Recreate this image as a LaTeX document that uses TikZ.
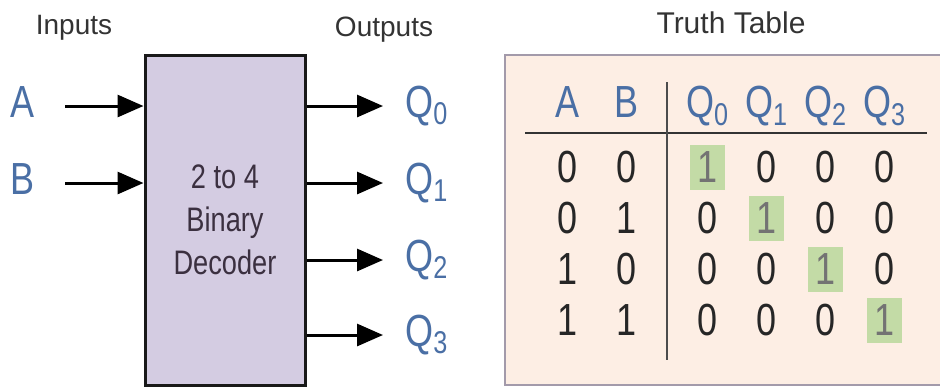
\documentclass[tikz,border=0pt]{standalone}
\usepackage{fontspec}
\setmainfont{Liberation Sans}
\newfontfamily\narrowsf{Liberation Sans}[FakeStretch=0.8]
\usetikzlibrary{
arrows.meta,
matrix,
positioning,
}
\definecolor{sigblue}{HTML}{4A6FA5}
\definecolor{headgray}{HTML}{333333}
\definecolor{decink}{HTML}{3B3040}
\definecolor{decfill}{HTML}{D4CCE2}
\definecolor{ttfill}{HTML}{FDEEE4}
\definecolor{ttdraw}{HTML}{A39AAA}
\definecolor{hlgreen}{HTML}{C3DBA6}
\tikzset{
every node/.style={align=center},
heading/.style={font=\fontsize{14}{16}\selectfont, text=headgray, anchor=base},
signame/.style={font=\narrowsf\fontsize{22.5}{26}\selectfont, text=sigblue,
  inner sep=0pt, text height=11pt, text depth=0pt},
sig/.style={draw=black, line width=1.5pt, -{Triangle[length=13pt,width=11pt]}},
decoder/.style={rectangle, draw=black!90, line width=1.5pt, fill=decfill,
  minimum width=80pt, minimum height=165pt, text=decink,
  font=\narrowsf\fontsize{17}{21.5}\selectfont},
cell/.style={font=\narrowsf\fontsize{22.5}{26}\selectfont, text=black!85,
  text height=15.5pt, text depth=0pt, inner xsep=3.8pt, inner ysep=3.5pt,
  text width=21.4pt},
head/.style={text=sigblue},
hot/.style={fill=hlgreen, text=black!55, text width=9.9pt},
rule/.style={draw=black!80, line width=1pt},
}

\begin{document}
\begin{tikzpicture}[x=0.5pt, y=-0.5pt]
\useasboundingbox (0,0) rectangle (940,387);

\node[heading] (inputs) at (74,34) {Inputs};
\node[heading] (outputs) at (384,36) {Outputs};
\node[heading, font=\fontsize{15}{17}\selectfont] (tttitle) at (731,33) {Truth Table};

\node[decoder] (dec) at (225,220) {2 to 4\\Binary\\Decoder};

\node[signame] (inA) at (23,106) {A};
\node[signame] (inB) at (23,183) {B};
\draw[sig, shorten <=15pt] (inA.east) -- (inA -| dec.west);
\draw[sig, shorten <=15pt] (inB.east) -- (inB -| dec.west);

\foreach \i/\y in {0/106,1/183,2/260,3/335} {
  \node[signame, anchor=west] (q\i) at (405,\y) {Q\textsubscript{\i}};
  \draw[sig, shorten >=11pt] (dec.east |- q\i) -- (q\i.west);
}

% truth table
\fill[ttfill, draw=ttdraw, line width=0.8pt] (505,55) rectangle (990,385);
\matrix (tt) [matrix of nodes, anchor=north west, inner sep=0pt,
  column sep=0.5pt, row sep=3pt, nodes={cell}] at (538,79.5) {
  |[head]| A & |[head]| B &[11pt] |[head]| Q\textsubscript{0} & |[head]| Q\textsubscript{1} & |[head]| Q\textsubscript{2} & |[head]| Q\textsubscript{3} \\[7pt]
  0 & 0 & |[hot]| 1 & 0 & 0 & 0 \\
  0 & 1 & 0 & |[hot]| 1 & 0 & 0 \\
  1 & 0 & 0 & 0 & |[hot]| 1 & 0 \\
  1 & 1 & 0 & 0 & 0 & |[hot]| 1 \\
};
\draw[rule] (525,133) -- (927,133);
\draw[rule, draw=black!70] (667,82) -- (667,360);
\end{tikzpicture}
\end{document}
